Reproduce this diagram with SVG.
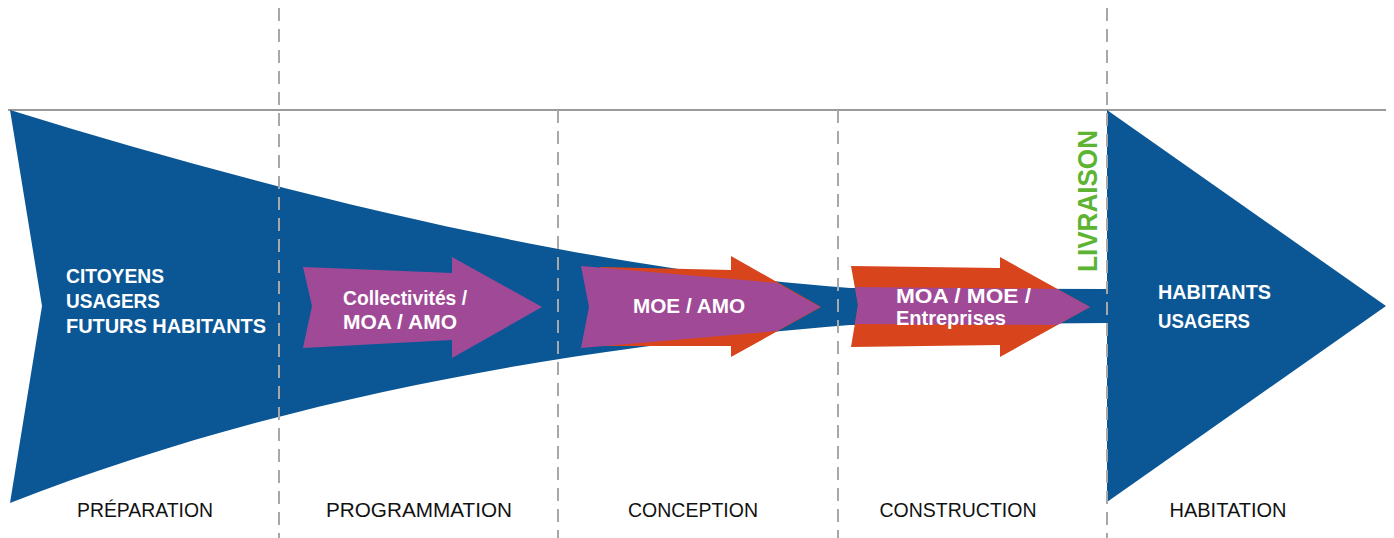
<svg xmlns="http://www.w3.org/2000/svg" width="1394" height="538" viewBox="0 0 1394 538">
<style>
.blue{fill:#0B5796}
.purple{fill:#A04A97}
.orange{fill:#D8441B}
.wt{fill:#fff;font-family:"Liberation Sans",Arial,sans-serif;font-weight:bold;font-size:19.5px}
.stage{fill:#111;font-family:"Liberation Sans",Arial,sans-serif;font-size:20px;text-anchor:middle}
.dash{stroke:#A8A8A8;stroke-width:2;stroke-dasharray:13 8;fill:none}
</style>
<rect width="1394" height="538" fill="#fff"/>
<g id="axis">
<line x1="8" y1="110" x2="1386" y2="110" stroke="#9A9A9A" stroke-width="2"/>
</g>
<g id="funnel">
<path class="blue" d="M10,110 C300,200 600,270 850,288 L1107,289 L1107,323 L850,325 C600,345 300,390 10,503 L42,306 Z"/>
<text class="wt" x="66" y="283" textLength="98" lengthAdjust="spacingAndGlyphs">CITOYENS</text>
<text class="wt" x="66" y="308" textLength="94" lengthAdjust="spacingAndGlyphs">USAGERS</text>
<text class="wt" x="66" y="333" textLength="200" lengthAdjust="spacingAndGlyphs">FUTURS HABITANTS</text>
</g>
<g id="habitation">
<path class="blue" d="M1107,110 L1386,306 L1107,502 Z"/>
<text class="wt" x="1158" y="299" textLength="113" lengthAdjust="spacingAndGlyphs">HABITANTS</text>
<text class="wt" x="1158" y="328" textLength="92" lengthAdjust="spacingAndGlyphs">USAGERS</text>
</g>
<g id="arrow-programmation">
<path class="purple" d="M303,267 L452,273 L452,257 L542,307 L452,358 L452,340 L303,348 L312,306 Z"/>
<text class="wt" x="343" y="305" textLength="124" lengthAdjust="spacingAndGlyphs">Collectivités /</text>
<text class="wt" x="343" y="329" textLength="114" lengthAdjust="spacingAndGlyphs">MOA / AMO</text>
</g>
<g id="arrow-conception">
<path class="orange" d="M600,267 L731,270 L731,256 L821,307 L731,357 L731,346 L600,346 Z"/>
<path class="purple" d="M581,266 L777,283 L820,307 L777,331 L581,348 L589,307 Z"/>
<text class="wt" x="633" y="313" textLength="112" lengthAdjust="spacingAndGlyphs">MOE / AMO</text>
</g>
<g id="arrow-construction">
<path class="orange" d="M851,266 L1000,268 L1000,257 L1090,307 L1000,357 L1000,345 L851,347 L858,305 Z"/>
<path class="purple" d="M855,287 L1057,289 L1090,307 L1057,325 L855,324 L858,305 Z"/>
<text class="wt" x="896" y="303" textLength="135" lengthAdjust="spacingAndGlyphs">MOA / MOE /</text>
<text class="wt" x="896" y="325" textLength="110" lengthAdjust="spacingAndGlyphs">Entreprises</text>
</g>
<g id="dividers">
<line class="dash" x1="279" y1="8" x2="279" y2="538"/>
<line class="dash" x1="558" y1="110" x2="558" y2="538"/>
<line class="dash" x1="838" y1="110" x2="838" y2="538"/>
<line class="dash" x1="1107" y1="8" x2="1107" y2="538"/>
</g>
<g id="livraison">
<text x="0" y="0" transform="translate(1097,272) rotate(-90)" fill="#5DB332" font-family="Liberation Sans, Arial, sans-serif" font-weight="bold" font-size="28" textLength="142" lengthAdjust="spacingAndGlyphs">LIVRAISON</text>
</g>
<g id="stages">
<text class="stage" x="145" y="517" textLength="136" lengthAdjust="spacingAndGlyphs">PRÉPARATION</text>
<text class="stage" x="419" y="517" textLength="186" lengthAdjust="spacingAndGlyphs">PROGRAMMATION</text>
<text class="stage" x="693" y="517" textLength="130" lengthAdjust="spacingAndGlyphs">CONCEPTION</text>
<text class="stage" x="958" y="517" textLength="157" lengthAdjust="spacingAndGlyphs">CONSTRUCTION</text>
<text class="stage" x="1228" y="517" textLength="117" lengthAdjust="spacingAndGlyphs">HABITATION</text>
</g>
</svg>
